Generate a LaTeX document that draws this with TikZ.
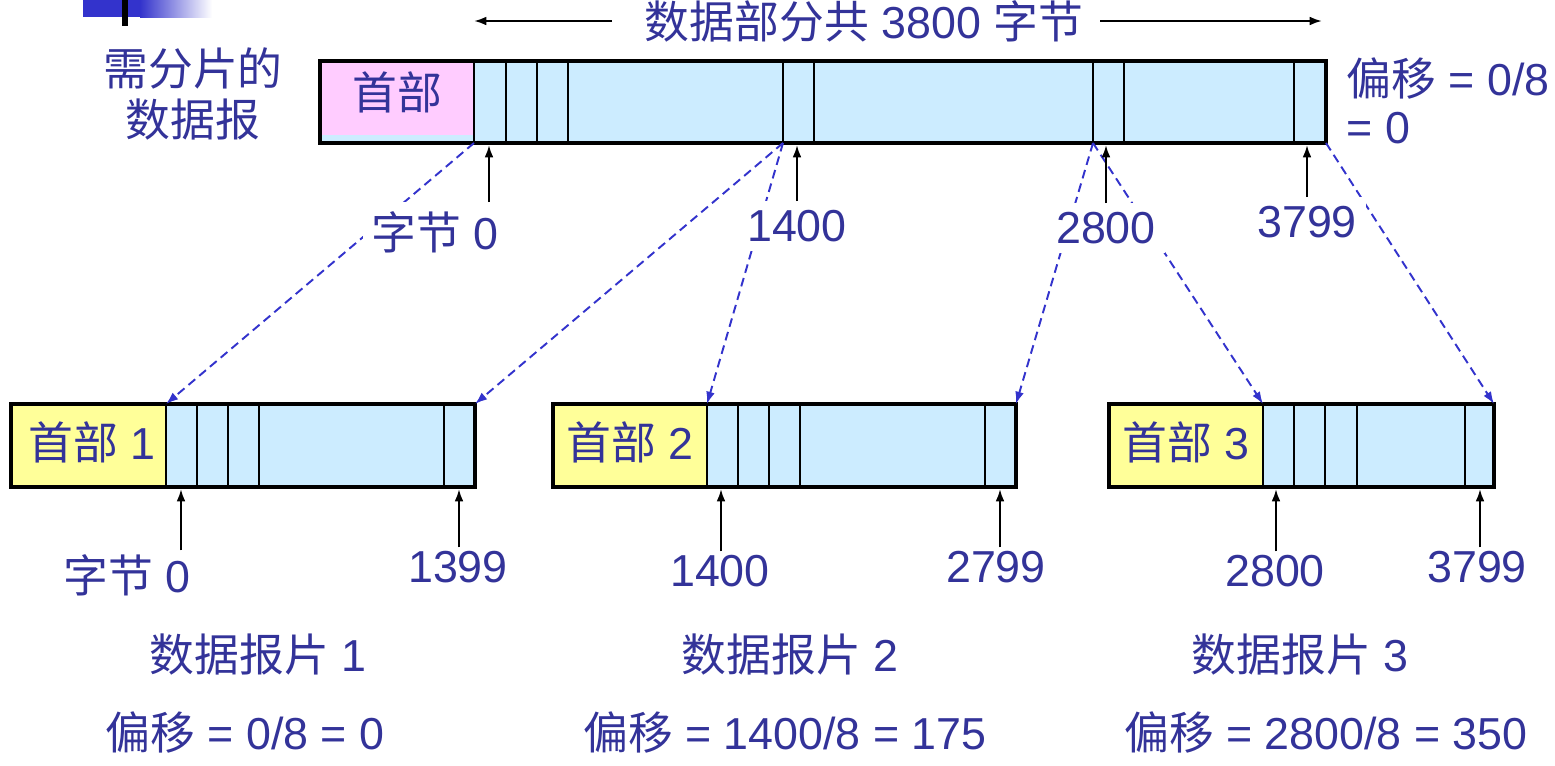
\documentclass[tikz,border=0pt]{standalone}
\usepackage{fontspec}
\usetikzlibrary{arrows.meta}
\setmainfont{Liberation Sans}
\newfontfamily\cjk{Noto Sans CJK SC}
\newcommand{\zh}[1]{{\cjk #1}}
\definecolor{txtblue}{RGB}{51,51,153}
\definecolor{lnblue}{RGB}{51,51,204}
\definecolor{hdrpink}{RGB}{255,204,255}
\definecolor{hdryellow}{RGB}{255,255,153}
\definecolor{datablue}{RGB}{204,236,255}

\begin{document}
\begin{tikzpicture}[x=0.02cm, y=-0.02cm, >={Latex[length=7pt,width=5pt]}]
	\tikzstyle{every node} = [text=txtblue, font=\fontsize{25.5}{29.5}\selectfont, inner sep=2pt]
	\tikzstyle{toplbl} = [fill=white, inner sep=5pt]
	\tikzstyle{box} = [draw, line width=1.8pt]
	\tikzstyle{cut} = [line width=1.3pt]
	\tikzstyle{ptr} = [->, line width=1.2pt]
	\tikzstyle{map} = [->, dash pattern=on 5pt off 3pt, lnblue, line width=1.1pt]
	\useasboundingbox (0,0) rectangle (1555,765);
	\fill [lnblue] (83,0) rectangle (140,17);
	\shade [left color=lnblue, right color=white] (140,0) rectangle (212,17);
	\fill [black] (122,0) rectangle (128,26);
	\fill [datablue] (320,61) rectangle (1326,143);
	\fill [hdrpink] (320,61) rectangle (474,135);
	\draw [cut] (474,61)--(474,143);
	\draw [cut] (506,61)--(506,143);
	\draw [cut] (537,61)--(537,143);
	\draw [cut] (568,61)--(568,143);
	\draw [cut] (783,61)--(783,143);
	\draw [cut] (814,61)--(814,143);
	\draw [cut] (1093,61)--(1093,143);
	\draw [cut] (1124,61)--(1124,143);
	\draw [cut] (1294,61)--(1294,143);
	\draw [box] (320,61) rectangle (1326,143);
	\fill [hdryellow] (11,404) rectangle (166,487);
	\fill [datablue] (166,404) rectangle (475,487);
	\draw [cut] (166,404)--(166,487);
	\draw [cut] (197,404)--(197,487);
	\draw [cut] (228,404)--(228,487);
	\draw [cut] (259,404)--(259,487);
	\draw [cut] (444,404)--(444,487);
	\draw [box] (11,404) rectangle (475,487);
	\fill [hdryellow] (553,404) rectangle (707,487);
	\fill [datablue] (707,404) rectangle (1016,487);
	\draw [cut] (707,404)--(707,487);
	\draw [cut] (738,404)--(738,487);
	\draw [cut] (769,404)--(769,487);
	\draw [cut] (800,404)--(800,487);
	\draw [cut] (985,404)--(985,487);
	\draw [box] (553,404) rectangle (1016,487);
	\fill [hdryellow] (1109,404) rectangle (1263,487);
	\fill [datablue] (1263,404) rectangle (1494,487);
	\draw [cut] (1263,404)--(1263,487);
	\draw [cut] (1294,404)--(1294,487);
	\draw [cut] (1325,404)--(1325,487);
	\draw [cut] (1357,404)--(1357,487);
	\draw [cut] (1465,404)--(1465,487);
	\draw [box] (1109,404) rectangle (1494,487);
	\coordinate (top0) at (474,143);
	\coordinate (top1400) at (783,143);
	\coordinate (top2800) at (1093,143);
	\coordinate (topend) at (1326,143);
	\coordinate (fa0) at (166,404);
	\coordinate (fa1) at (475,404);
	\coordinate (fb0) at (707,404);
	\coordinate (fb1) at (1016,404);
	\coordinate (fc0) at (1263,404);
	\coordinate (fc1) at (1494,404);
	\draw [map] (top0)--(fa0);
	\draw [map] (top1400)--(fa1);
	\draw [map] (top1400)--(fb0);
	\draw [map] (top2800)--(fb1);
	\draw [map] (top2800)--(fc0);
	\draw [map] (topend)--(fc1);
	\node (title) at (864,21) {\zh{数据部分共} 3800 \zh{字节}};
	\coordinate (tl0) at (612,21);
	\coordinate (tl) at (474,21);
	\coordinate (tr0) at (1100,21);
	\coordinate (tr) at (1322,21);
	\draw [ptr] (tl0)--(tl);
	\draw [ptr] (tr0)--(tr);
	\node [align=center] (need) at (193,94) {\zh{需分片的}\\\zh{数据报}};
	\node (hdr) at (397,92) {\zh{首部}};
	\node [anchor=west] (off) at (1343,78) {\zh{偏移} = 0/8};
	\node [anchor=west] (offz) at (1343,128) {= 0};
	\node [toplbl] (s0) at (435,232) {\zh{字节} 0};
	\node [toplbl] (s1400) at (797,226) {1400};
	\node [toplbl] (s2800) at (1106,228) {2800};
	\node [toplbl] (s3799) at (1307,222) {3799};
	\coordinate (t0) at (489,145);
	\coordinate (t1400) at (797,145);
	\coordinate (t2800) at (1106,145);
	\coordinate (t3799) at (1307,145);
	\draw [ptr] (t0 |- s0.north)--(t0);
	\draw [ptr] (s1400)--(t1400);
	\draw [ptr] (s2800)--(t2800);
	\draw [ptr] (s3799)--(t3799);
	\node (hdra) at (92,442) {\zh{首部} 1};
	\node (hdrb) at (630,442) {\zh{首部} 2};
	\node (hdrc) at (1186,442) {\zh{首部} 3};
	\node (la0) at (127,575) {\zh{字节} 0};
	\node (la1) at (458,567) {1399};
	\node (lb0) at (720,571) {1400};
	\node (lb1) at (996,567) {2799};
	\node (lc0) at (1275,571) {2800};
	\node (lc1) at (1477,567) {3799};
	\coordinate (ua0) at (181,489);
	\coordinate (ua1) at (459,489);
	\coordinate (ub0) at (721,489);
	\coordinate (ub1) at (1000,489);
	\coordinate (uc0) at (1276,489);
	\coordinate (uc1) at (1480,489);
	\draw [ptr] (ua0 |- la0.north)--(ua0);
	\draw [ptr] (ua1 |- la1.north)--(ua1);
	\draw [ptr] (ub0 |- lb0.north)--(ub0);
	\draw [ptr] (ub1 |- lb1.north)--(ub1);
	\draw [ptr] (uc0 |- lc0.north)--(uc0);
	\draw [ptr] (uc1 |- lc1.north)--(uc1);
	\node (fraga) at (258,655) {\zh{数据报片} 1};
	\node (fragb) at (790,655) {\zh{数据报片} 2};
	\node (fragc) at (1300,655) {\zh{数据报片} 3};
	\node (offa) at (245,732) {\zh{偏移} = 0/8 = 0};
	\node (offb) at (785,732) {\zh{偏移} = 1400/8 = 175};
	\node (offc) at (1326,732) {\zh{偏移} = 2800/8 = 350};
\end{tikzpicture}
\end{document}
